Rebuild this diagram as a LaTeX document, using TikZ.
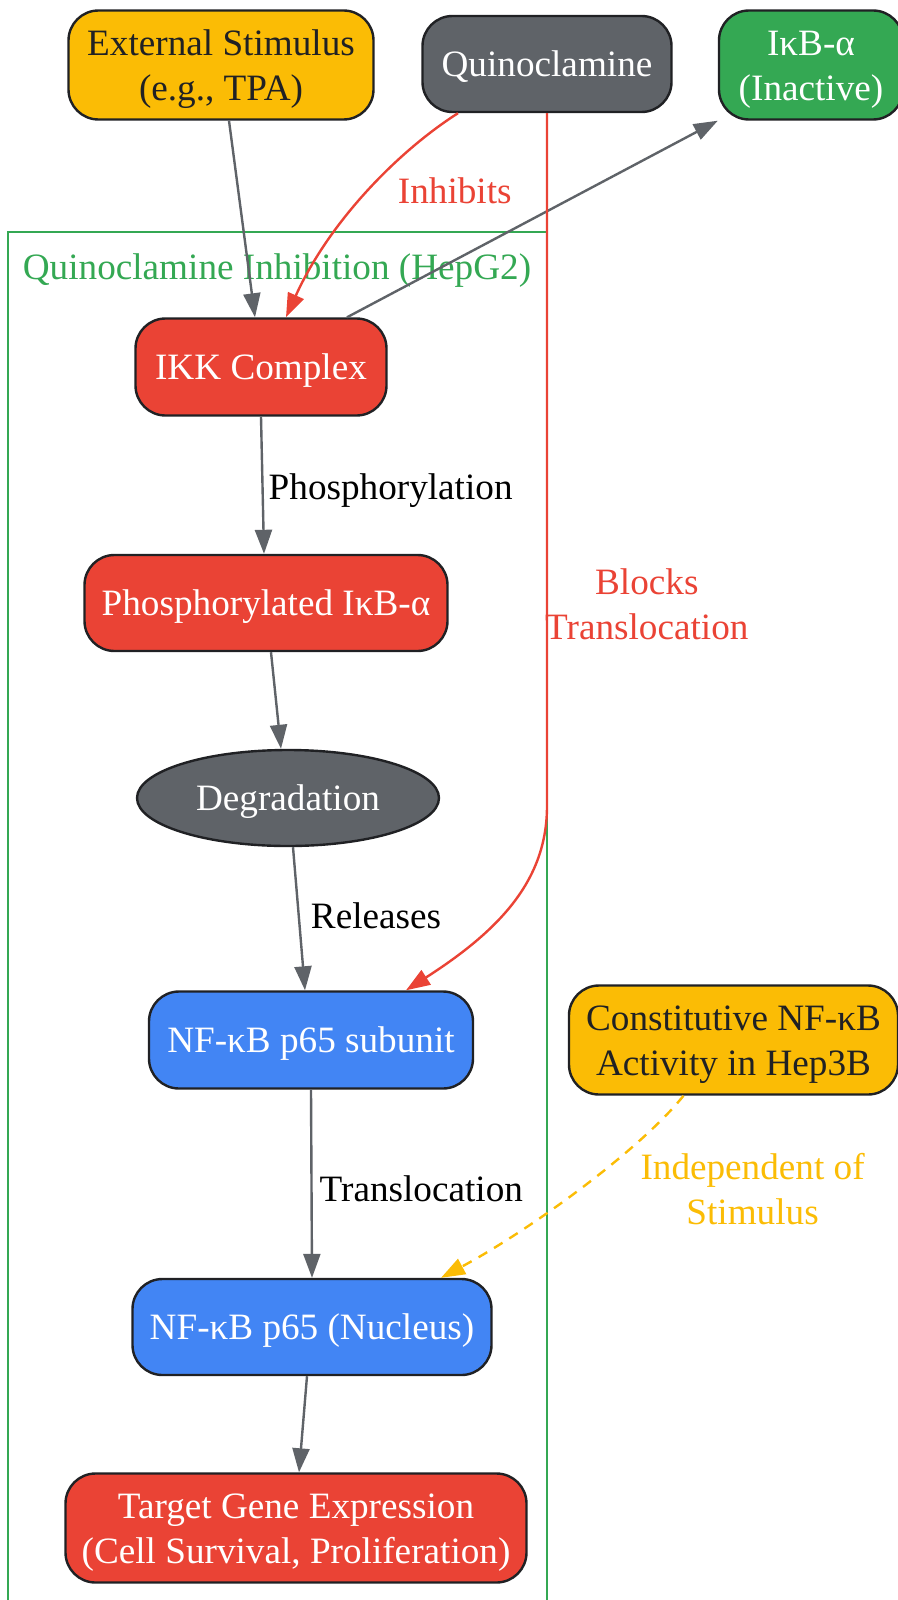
\documentclass[tikz,border=0pt]{standalone}
\usepackage{fontspec}
\setmainfont{Liberation Serif}
\usetikzlibrary{positioning, arrows.meta, shapes.geometric}

\definecolor{gyellow}{HTML}{FBBC05}
\definecolor{ggrey}{HTML}{5F6368}
\definecolor{ggreen}{HTML}{34A853}
\definecolor{gred}{HTML}{EA4335}
\definecolor{gblue}{HTML}{4285F4}
\definecolor{ink}{HTML}{202124}

\begin{document}
\begin{tikzpicture}[x=0.5pt,y=-0.5pt,>={Triangle[length=12pt,width=8.5pt]}]
\tikzstyle{every node}=[font=\fontsize{18.6}{22.5}\selectfont]
\tikzstyle{box}=[draw=ink, line width=1.2pt, rounded corners=15pt, align=center, inner sep=0pt, text=white, text height=12.5pt, text depth=0.5pt]
\tikzstyle{two}=[text height=36pt]
\tikzstyle{every edge}=[draw,->,line width=1.2pt,ggrey]
\tikzstyle{lbl}=[anchor=west, inner sep=0pt, text=black]

\useasboundingbox (0,0) rectangle (898,1600);

% cluster
\draw[ggreen, line width=1.2pt] (8,1610) -- (8,232) -- (547,232) -- (547,1610);
\node[text=ggreen] (clab) at (277,271) {Quinoclamine Inhibition (HepG2)};

\node[box, two, fill=gyellow, text=ink, minimum width=152.5pt, minimum height=54.5pt] (Ext) at (221,65) {External Stimulus\\(e.g., TPA)};
\node[box, fill=ggrey, minimum width=124.5pt, minimum height=48pt] (Qui) at (547,64) {Quinoclamine};
\node[box, two, fill=ggreen, minimum width=92pt, minimum height=54.5pt] (IkB) at (811,65) {IκB-α\\(Inactive)};
\node[box, fill=gred, minimum width=125.5pt, minimum height=48.5pt] (IKK) at (261,367) {IKK Complex};
\node[box, fill=gred, minimum width=181.5pt, minimum height=48pt] (PIkB) at (266,603) {Phosphorylated IκB-α};
\node[box, ellipse, fill=ggrey, minimum width=151pt, minimum height=48pt] (Deg) at (288,798) {Degradation};
\node[box, fill=gblue, minimum width=162pt, minimum height=48.5pt] (P65) at (311,1040) {NF-κB p65 subunit};
\node[box, fill=gblue, minimum width=179.5pt, minimum height=48pt] (Nuc) at (312,1327) {NF-κB p65 (Nucleus)};
\node[box, two, fill=gred, minimum width=230.5pt, minimum height=54.5pt] (Gene) at (296,1528) {Target Gene Expression\\(Cell Survival, Proliferation)};
\node[box, two, fill=gyellow, text=ink, minimum width=164.5pt, minimum height=54.5pt] (Con) at (733.5,1040) {Constitutive NF-κB\\Activity in Hep3B};

\coordinate (bend) at (547,806);

\draw ([xshift=4pt]Ext.south) edge ([xshift=-3pt]IKK.north);
\draw ([xshift=43pt]IKK.north) edge (IkB.south west);
\draw (IKK.south) edge node[lbl, pos=0.51, xshift=2.5pt, yshift=-2pt] {Phosphorylation} ([xshift=-1pt]PIkB.north);
\draw ([xshift=2.5pt]PIkB.south) edge ([xshift=-3.5pt]Deg.north);
\draw ([xshift=2.5pt]Deg.south) edge node[lbl, pos=0.48, xshift=5.5pt] {Releases} ([xshift=-3pt]P65.north);
\draw (P65.south) edge node[lbl, pos=0.526, xshift=3.5pt] {Translocation} (Nuc.north);
\draw ([xshift=-2.5pt]Nuc.south) edge ([xshift=1.5pt]Gene.north);

% quinoclamine acts twice
\draw[gred, ->, line width=1.2pt] ([xshift=-44.5pt]Qui.south) .. controls (400,150) and (330,220) .. ([xshift=12.5pt]IKK.north)
    node[lbl, pos=0.5, xshift=15pt, yshift=1pt, text=gred] {Inhibits};
\draw[gred, ->, line width=1.2pt] (Qui.south) -- (bend)
    node[lbl, pos=0.709, xshift=-1.5pt, align=center, text=gred] {Blocks\\Translocation}
    .. controls (547,880) and (500,930) .. ([xshift=47.5pt]P65.north);

% Hep3B
\draw[gyellow, dashed, dash pattern=on 5pt off 4pt, ->, line width=1.2pt] ([xshift=-25pt]Con.south) .. controls (640,1150) and (530,1230) .. ([xshift=64.5pt]Nuc.north)
    node[lbl, pos=0.5, xshift=30pt, align=center, text=gyellow] {Independent of\\Stimulus};
\end{tikzpicture}
\end{document}
